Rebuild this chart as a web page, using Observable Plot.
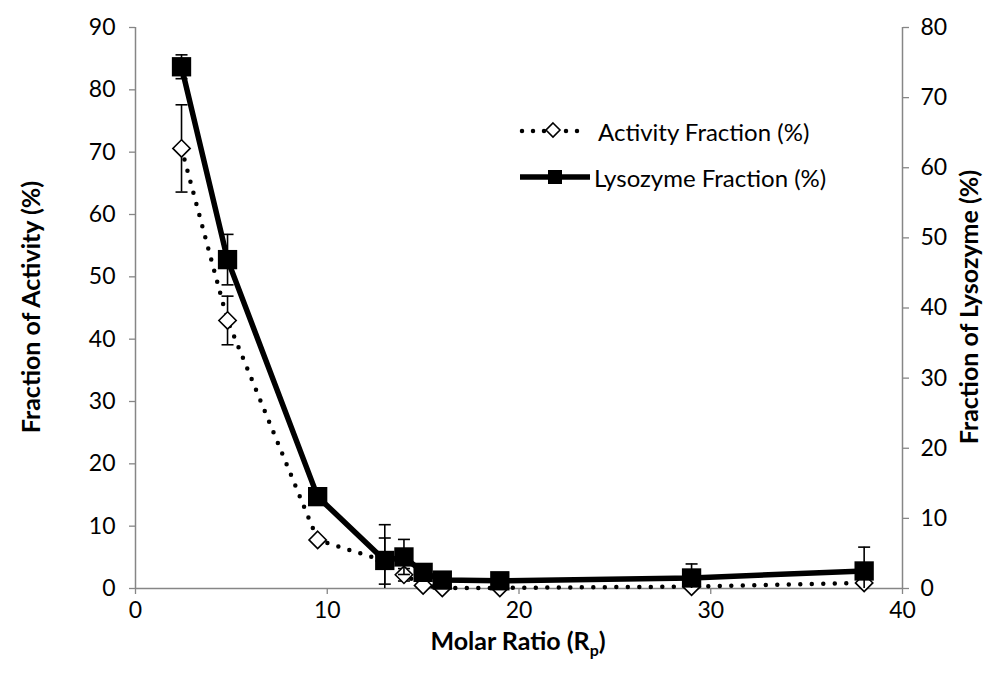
<!DOCTYPE html>
<html>
<head>
<meta charset="utf-8">
<script src="https://cdn.jsdelivr.net/npm/d3@7"></script>
<script src="https://cdn.jsdelivr.net/npm/@observablehq/plot@0.6"></script>
<style>
  html, body { margin: 0; padding: 0; background: white; }
  #wrap { position: relative; width: 997px; height: 675px; font-family: Lato, "Open Sans", sans-serif; }
  #wrap svg [aria-label$="axis tick"] { stroke: #868686; stroke-width: 1.3; }
  .ttl { position: absolute; font-weight: bold; font-size: 25px; line-height: 1; white-space: nowrap; color: black; }
  .ttl sub { font-size: 16px; vertical-align: -6px; line-height: 0; }
  .rot { transform: translate(-50%, -50%) rotate(-90deg); }
  .hor { transform: translate(-50%, -50%); }
  #legend { position: absolute; left: 510px; top: 110px; }
  #legend text { font-family: Lato, "Open Sans", sans-serif; font-size: 24px; fill: black; }
</style>
</head>
<body>
<div id="wrap"></div>
<script>
// ---- data ----
const molarRatio   = [2.4, 4.8, 9.5, 13, 14, 15, 16, 19, 29, 38];
const activity     = [70.6, 43.0, 7.8, 4.4, 2.2, 0.5, 0.1, 0.1, 0.3, 0.9];   // left axis, %
const activityErr  = [7.0, 3.9, 0, 3.7, 1.0, 0, 0, 0, 0, 0];
const lysozyme     = [74.4, 46.9, 13.1, 4.0, 4.5, 2.3, 1.2, 1.1, 1.5, 2.5];  // right axis, %
const lysozymeErr  = [1.7, 3.6, 0, 5.1, 2.5, 0, 0, 0, 2.0, 3.4];
const xTicks       = [0, 10, 20, 30, 40];
const leftTicks    = [0, 10, 20, 30, 40, 50, 60, 70, 80, 90];
const rightTicks   = [0, 10, 20, 30, 40, 50, 60, 70, 80];
const seriesNames  = ["Activity Fraction (%)", "Lysozyme Fraction (%)"];
const titles       = {left: "Fraction of Activity (%)", right: "Fraction of Lysozyme (%)", x: "Molar Ratio (R", xSub: "p", xEnd: ")"};

// secondary axis (0-80) mapped onto primary scale (0-90)
const k = 90 / 80;
const gray = "#868686";

const actData = molarRatio.map((x, i) => ({x, y: activity[i], e: activityErr[i]}));
const lysData = molarRatio.map((x, i) => ({x, y: lysozyme[i] * k, e: lysozymeErr[i] * k}));
const actErr = actData.filter(d => d.e > 0);
const lysErr = lysData.filter(d => d.e > 0);

const cap = {draw(ctx) { ctx.moveTo(-6, 0); ctx.lineTo(6, 0); }};

function errMarks(data) {
  return [
    Plot.ruleX(data, {x: "x", y1: d => d.y - d.e, y2: d => d.y + d.e, stroke: "black", strokeWidth: 1.6, clip: true}),
    Plot.dot(data, {x: "x", y: d => d.y + d.e, symbol: cap, fill: "none", stroke: "black", strokeWidth: 1.6, clip: true}),
    Plot.dot(data, {x: "x", y: d => d.y - d.e, symbol: cap, fill: "none", stroke: "black", strokeWidth: 1.6, clip: true})
  ];
}

const chart = Plot.plot({
  width: 997,
  height: 675,
  marginLeft: 135,
  marginRight: 95,
  marginTop: 27,
  marginBottom: 87,
  x: {domain: [0, 40]},
  y: {domain: [0, 90]},
  style: {fontFamily: "Lato, 'Open Sans', sans-serif", fontSize: "23px", color: "black", background: "white", overflow: "visible"},
  marks: [
    Plot.ruleY([0], {stroke: gray, strokeWidth: 1.5}),
    Plot.ruleX([0], {stroke: gray, strokeWidth: 1.5}),
    Plot.ruleX([40], {stroke: gray, strokeWidth: 1.5}),
    Plot.axisX(xTicks, {tickSize: 6, tickPadding: 7, label: null}),
    Plot.axisY(leftTicks, {anchor: "left", tickSize: 6, tickPadding: 14, label: null}),
    Plot.axisY(rightTicks.map(v => v * k), {anchor: "right", tickSize: 6, tickPadding: 12, label: null, tickFormat: d => String(Math.round(d / k))}),
    // Activity series
    ...errMarks(actErr),
    Plot.line(actData, {x: "x", y: "y", stroke: "black", strokeWidth: 4.5, strokeDasharray: "0,11.5", strokeLinecap: "round"}),
    Plot.dot(actData, {x: "x", y: "y", symbol: "diamond2", r: 7.8, fill: "white", stroke: "black", strokeWidth: 1.6}),
    // Lysozyme series
    ...errMarks(lysErr),
    Plot.line(lysData, {x: "x", y: "y", stroke: "black", strokeWidth: 5.5}),
    Plot.dot(lysData, {x: "x", y: "y", symbol: "square", r: 10.9, fill: "black", stroke: "none"})
  ]
});

const wrap = document.getElementById("wrap");
wrap.appendChild(chart);

function addTitle(html, x, y, cls) {
  const d = document.createElement("div");
  d.className = "ttl " + cls;
  d.style.left = x + "px";
  d.style.top = y + "px";
  d.innerHTML = html;
  wrap.appendChild(d);
}
addTitle(titles.left, 30, 307, "rot");
addTitle(titles.right, 968, 307, "rot");
addTitle(titles.x + "<sub>" + titles.xSub + "</sub>" + titles.xEnd, 518, 640, "hor");

// legend
const ns = "http://www.w3.org/2000/svg";
const lg = document.createElementNS(ns, "svg");
lg.setAttribute("id", "legend");
lg.setAttribute("width", 380);
lg.setAttribute("height", 90);
lg.innerHTML = `
  <line x1="12" y1="21" x2="78" y2="21" stroke="black" stroke-width="4.5" stroke-dasharray="0,11" stroke-linecap="round"/>
  <path d="M43,13 L50,20 L43,27 L36,20 Z" fill="white" stroke="black" stroke-width="1.6"/>
  <text x="88" y="21" dominant-baseline="central">${seriesNames[0]}</text>
  <line x1="10" y1="67" x2="80" y2="67" stroke="black" stroke-width="5.5"/>
  <rect x="38" y="60" width="14" height="14" fill="black"/>
  <text x="84" y="67" dominant-baseline="central">${seriesNames[1]}</text>
`;
wrap.appendChild(lg);
</script>
</body>
</html>
